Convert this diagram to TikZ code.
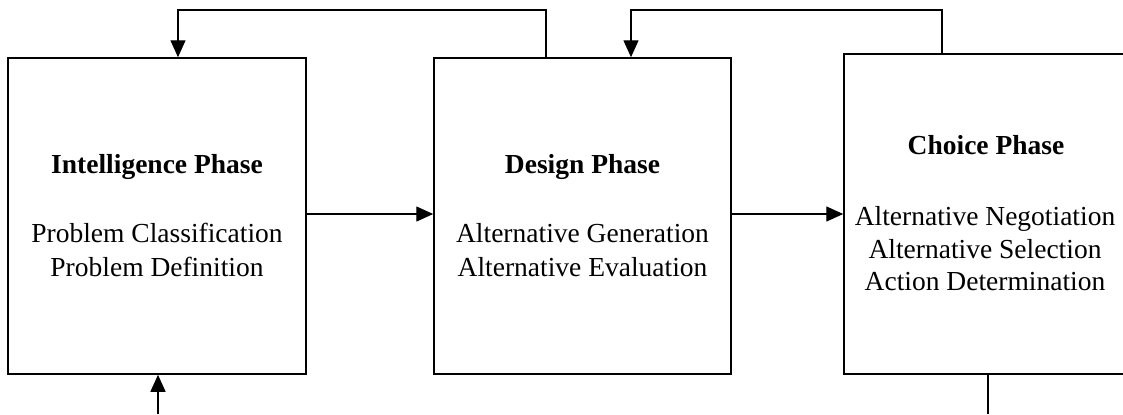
\documentclass[tikz,border=0pt]{standalone}
\usepackage{fontspec}
\setmainfont{Liberation Serif}
\usetikzlibrary{arrows.meta}
\begin{document}
\begin{tikzpicture}[x=0.5pt,y=-0.5pt,
  phasebox/.style={draw, line width=0.75pt, rectangle, inner sep=0pt},
  arr/.style={line width=0.7pt, -{Triangle[length=8.5pt,width=7.5pt]}},
  conn/.style={line width=0.7pt},
  title/.style={anchor=base, inner sep=0pt, font=\fontsize{13.75}{16.5}\selectfont\bfseries},
  item/.style={anchor=base, inner sep=0pt, font=\fontsize{13.75}{16.5}\selectfont}]
\useasboundingbox (0,0) rectangle (1123,414);
\clip (0,0) rectangle (1123,414);

% phase boxes
\node[phasebox, minimum width=149pt, minimum height=158pt] (intel) at (157,216) {};
\node[phasebox, minimum width=148.5pt, minimum height=158pt] (design) at (582.5,216) {};
\node[phasebox, minimum width=141.5pt, minimum height=160pt] (choice) at (985.5,214) {};

% box contents
\node[title] (intelT) at (157,173) {Intelligence Phase};
\node[item] (intelA) at (157,242) {Problem Classification};
\node[item] (intelB) at (157,276) {Problem Definition};

\node[title] (designT) at (582.5,173) {Design Phase};
\node[item] (designA) at (582.5,242) {Alternative Generation};
\node[item] (designB) at (582.5,276) {Alternative Evaluation};

\node[title] (choiceT) at (986,154) {Choice Phase};
\node[item] (choiceA) at (985,225) {Alternative Negotiation};
\node[item] (choiceB) at (985,258) {Alternative Selection};
\node[item] (choiceC) at (985,290) {Action Determination};

% routing points
\coordinate (fbA) at (546,10);
\coordinate (fbB) at (178,10);
\coordinate (fbC) at (942,10);
\coordinate (fbD) at (631,10);
\coordinate (mid) at (0,214);
\coordinate (inlet) at (158,414);
\coordinate (outlet) at (988,414);

% forward flow
\draw[arr] (intel.east |- mid) -- (design.west |- mid);
\draw[arr] (design.east |- mid) -- (choice.west |- mid);

% feedback loops over the top
\draw[arr] (fbA |- design.north) -- (fbA) -- (fbB) -- (fbB |- intel.north);
\draw[arr] (fbC |- choice.north) -- (fbC) -- (fbD) -- (fbD |- design.north);

% entry and exit
\draw[arr] (inlet) -- (inlet |- intel.south);
\draw[conn] (outlet |- choice.south) -- (outlet);
\end{tikzpicture}
\end{document}
